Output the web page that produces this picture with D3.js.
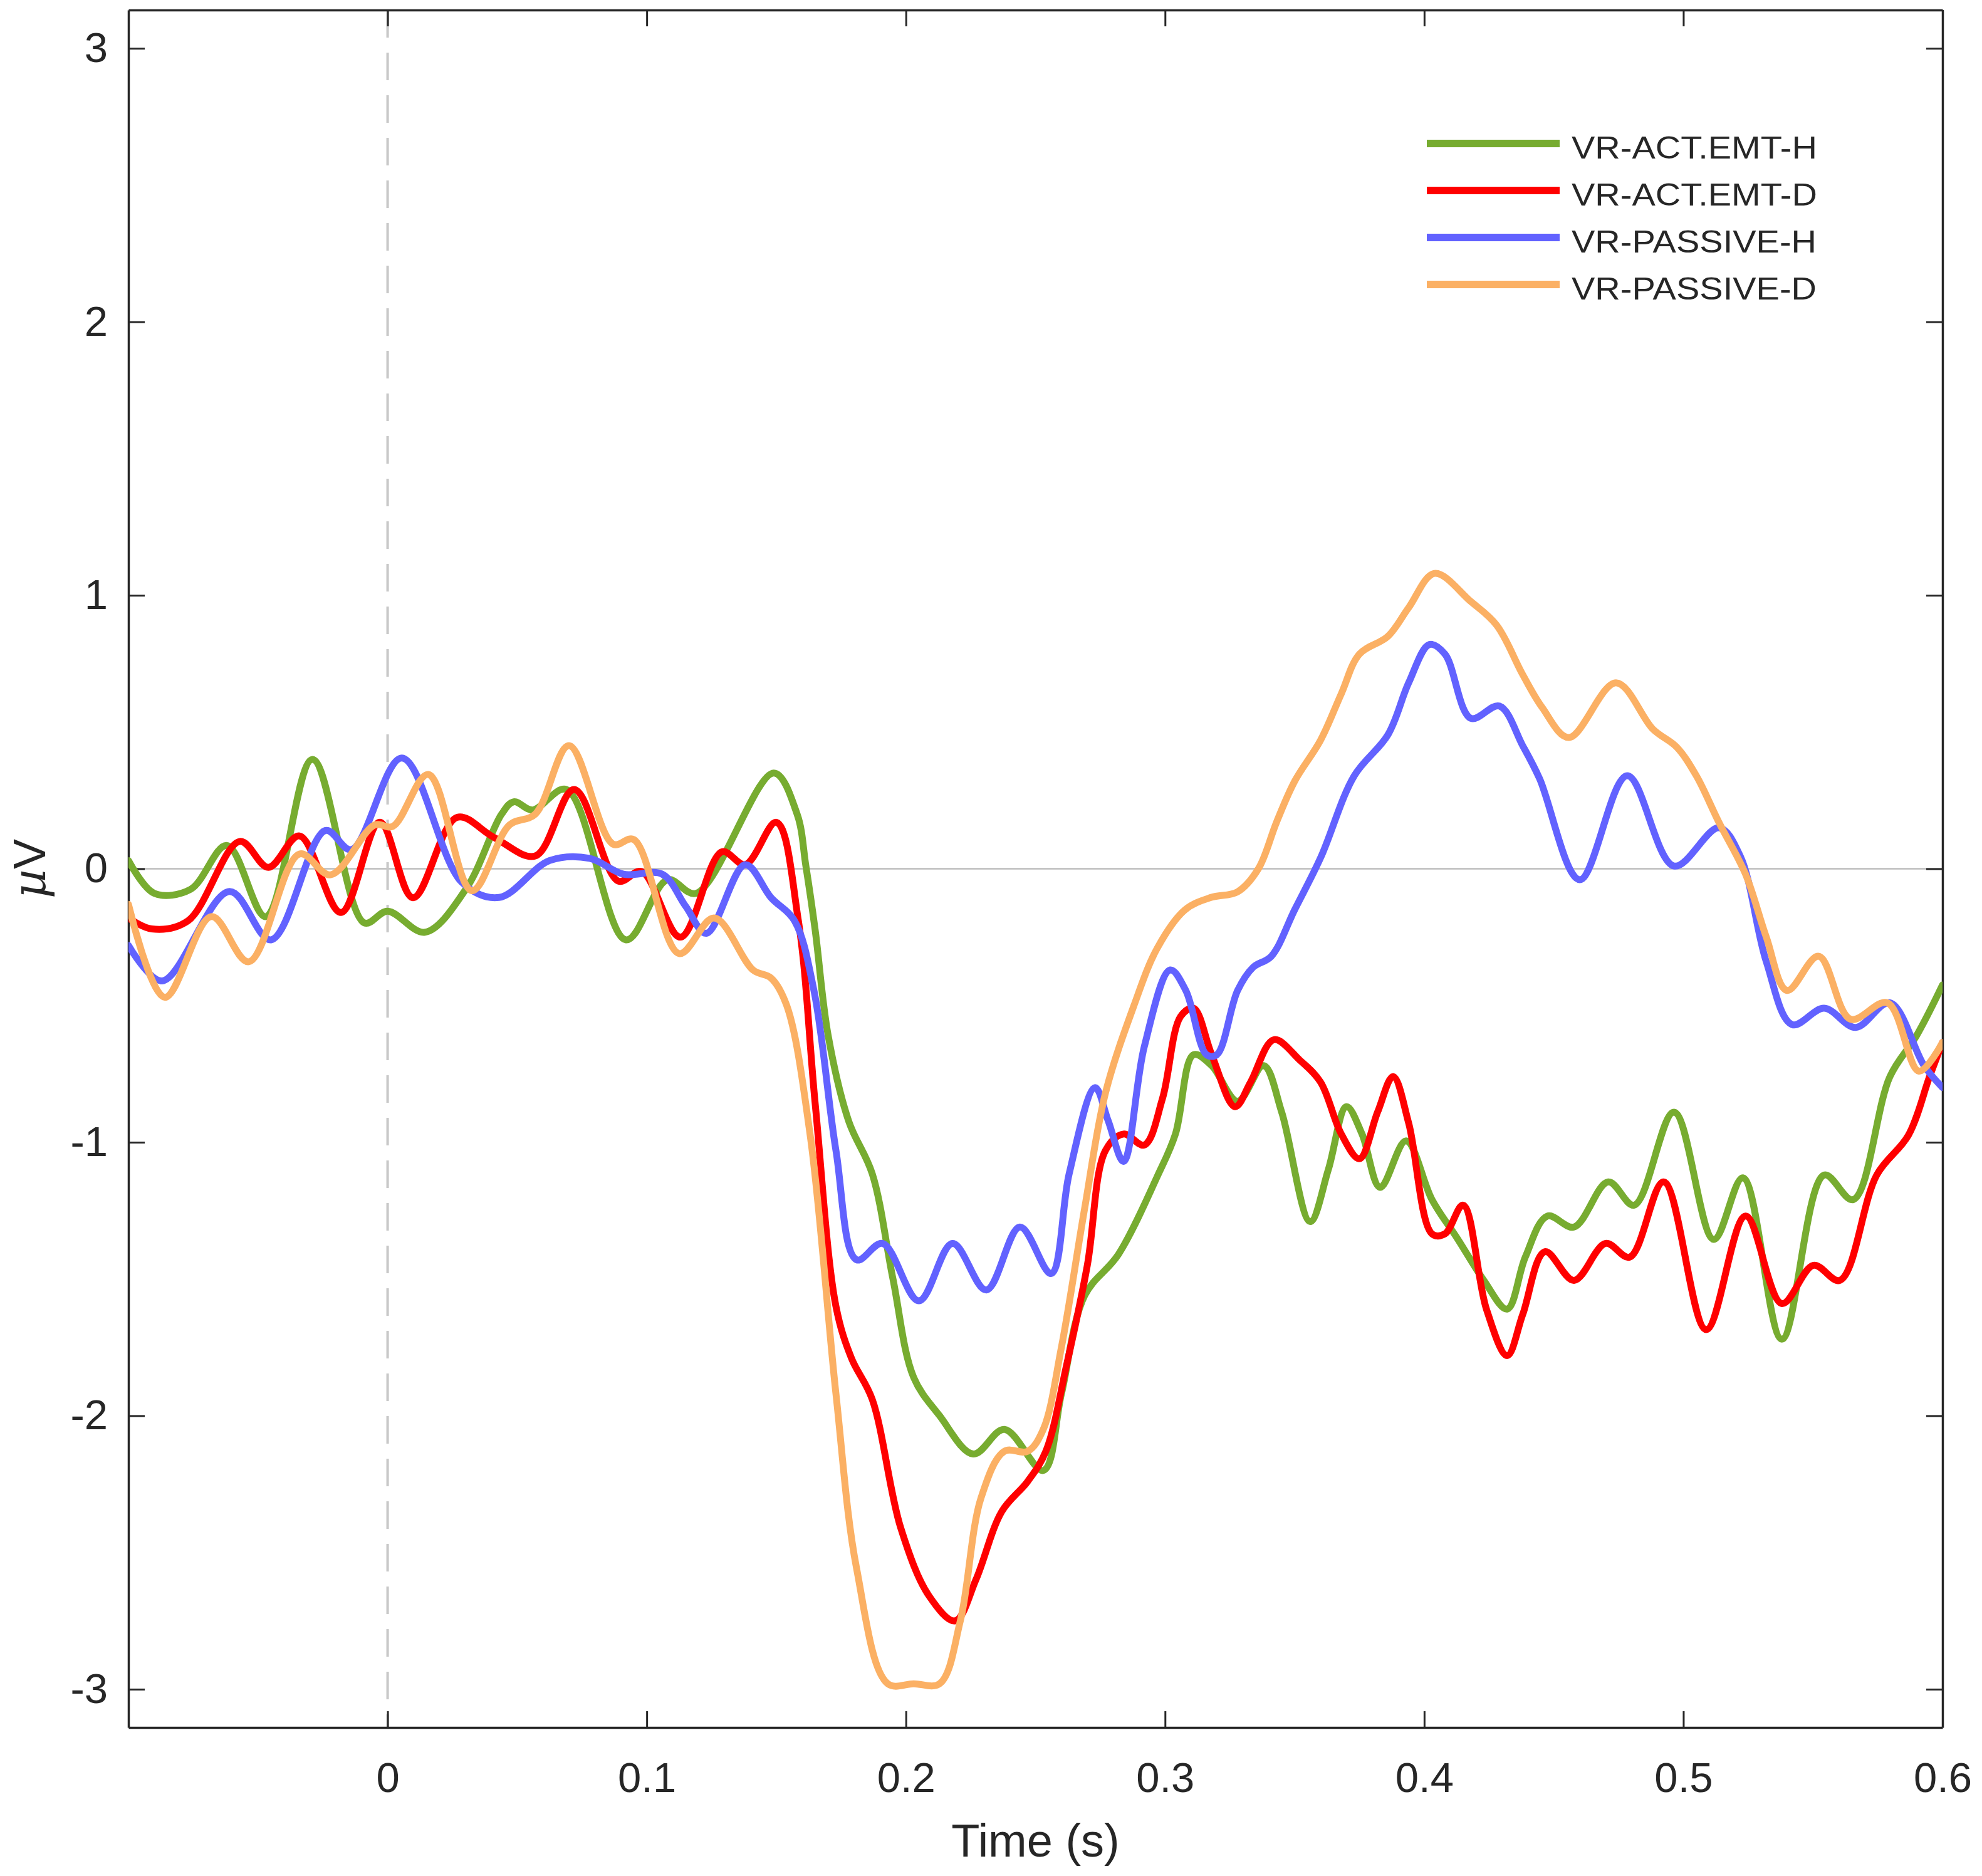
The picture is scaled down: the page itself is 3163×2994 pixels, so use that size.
<!DOCTYPE html>
<html>
<head>
<meta charset="utf-8">
<script src="https://cdn.jsdelivr.net/npm/d3@7"></script>
<style>
	body { margin: 0; background: #fff; }
	text { font-family: "Liberation Sans", Arial, Helvetica, sans-serif; fill: #262626; }
</style>
</head>
<body>
<div id="erp"></div>
<script>

// series: [time (s), amplitude (uV)]
const actEmtH = [
	[-0.1, 0.03], [-0.09, -0.09], [-0.076, -0.075], [-0.062, 0.085], [-0.047, -0.175],
	[-0.029, 0.40], [-0.009, -0.198], [0, -0.155], [0.0144, -0.232], [0.0305, -0.07],
	[0.044, 0.20], [0.0487, 0.245], [0.056, 0.215], [0.069, 0.29], [0.092, -0.26],
	[0.108, -0.04], [0.119, -0.09], [0.149, 0.35], [0.158, 0.2], [0.1614, 0.01],
	[0.165, -0.225], [0.170, -0.61], [0.178, -0.925], [0.187, -1.115], [0.195, -1.50],
	[0.203, -1.86], [0.213, -2.0], [0.226, -2.14], [0.238, -2.05], [0.253, -2.2],
	[0.260, -1.92], [0.269, -1.56], [0.282, -1.41], [0.297, -1.125], [0.304, -0.97],
	[0.311, -0.68], [0.318, -0.72], [0.328, -0.85], [0.338, -0.72], [0.345, -0.89],
	[0.356, -1.29], [0.363, -1.10], [0.370, -0.87], [0.376, -0.97], [0.383, -1.165],
	[0.393, -0.995], [0.403, -1.21], [0.413, -1.355], [0.423, -1.505], [0.432, -1.61],
	[0.439, -1.42], [0.4475, -1.27], [0.4578, -1.31], [0.471, -1.145], [0.481, -1.23],
	[0.4964, -0.89], [0.5117, -1.355], [0.523, -1.13], [0.538, -1.72], [0.5543, -1.12],
	[0.5655, -1.21], [0.5797, -0.76], [0.590, -0.61], [0.6, -0.425]
];

const actEmtD = [
	[-0.1, -0.18], [-0.091, -0.22], [-0.077, -0.19], [-0.057, 0.10], [-0.046, 0.005],
	[-0.034, 0.12], [-0.018, -0.16], [-0.003, 0.17], [0.0098, -0.106], [0.0268, 0.188],
	[0.041, 0.115], [0.057, 0.047], [0.072, 0.29], [0.089, -0.045], [0.098, -0.01],
	[0.113, -0.25], [0.129, 0.062], [0.138, 0.015], [0.150, 0.17], [0.1585, -0.19],
	[0.165, -0.86], [0.173, -1.60], [0.179, -1.79], [0.187, -1.94], [0.198, -2.41],
	[0.209, -2.66], [0.219, -2.75], [0.227, -2.60], [0.237, -2.35], [0.247, -2.24],
	[0.254, -2.13], [0.262, -1.815], [0.270, -1.45], [0.277, -1.03], [0.284, -0.97],
	[0.292, -1.01], [0.299, -0.84], [0.306, -0.54], [0.311, -0.51], [0.318, -0.68],
	[0.327, -0.87], [0.333, -0.78], [0.342, -0.625], [0.352, -0.70], [0.360, -0.78],
	[0.368, -0.97], [0.375, -1.06], [0.382, -0.89], [0.388, -0.76], [0.394, -0.93],
	[0.403, -1.335], [0.408, -1.335], [0.415, -1.23], [0.424, -1.61], [0.432, -1.78],
	[0.438, -1.63], [0.4466, -1.40], [0.4578, -1.505], [0.470, -1.37], [0.4793, -1.42],
	[0.4924, -1.145], [0.5088, -1.685], [0.524, -1.27], [0.538, -1.59], [0.5502, -1.45],
	[0.5604, -1.505], [0.5746, -1.12], [0.5868, -0.975], [0.595, -0.76], [0.6, -0.635]
];

const passiveH = [
	[-0.1, -0.28], [-0.087, -0.41], [-0.061, -0.083], [-0.045, -0.26], [-0.024, 0.14],
	[-0.014, 0.07], [0.0055, 0.405], [0.0287, -0.05], [0.043, -0.105], [0.0625, 0.03],
	[0.078, 0.038], [0.091, -0.02], [0.106, -0.02], [0.115, -0.137], [0.123, -0.236],
	[0.138, 0.015], [0.148, -0.106], [0.157, -0.19], [0.1645, -0.445], [0.173, -1.03],
	[0.181, -1.43], [0.191, -1.37], [0.205, -1.58], [0.218, -1.37], [0.231, -1.54],
	[0.244, -1.31], [0.256, -1.48], [0.263, -1.115], [0.273, -0.80], [0.278, -0.92],
	[0.284, -1.07], [0.292, -0.65], [0.302, -0.37], [0.308, -0.445], [0.316, -0.68],
	[0.32, -0.68], [0.328, -0.445], [0.334, -0.36], [0.341, -0.32], [0.350, -0.15],
	[0.360, 0.04], [0.373, 0.34], [0.386, 0.49], [0.394, 0.68], [0.402, 0.82],
	[0.408, 0.785], [0.418, 0.55], [0.429, 0.595], [0.438, 0.45], [0.4445, 0.33],
	[0.460, -0.04], [0.4783, 0.34], [0.4964, 0.01], [0.5137, 0.15], [0.522, 0.045],
	[0.532, -0.34], [0.542, -0.57], [0.5543, -0.51], [0.5665, -0.58], [0.5797, -0.49],
	[0.5929, -0.72], [0.6, -0.80]
];

const passiveD = [
	[-0.1, -0.13], [-0.086, -0.47], [-0.068, -0.175], [-0.0536, -0.34], [-0.034, 0.054],
	[-0.022, -0.022], [-0.005, 0.16], [0.002, 0.155], [0.0157, 0.345], [0.0325, -0.08],
	[0.047, 0.16], [0.057, 0.20], [0.070, 0.45], [0.087, 0.09], [0.095, 0.107],
	[0.1125, -0.31], [0.126, -0.18], [0.141, -0.37], [0.148, -0.40], [0.154, -0.50],
	[0.163, -0.97], [0.173, -1.92], [0.181, -2.56], [0.193, -2.98], [0.203, -2.98],
	[0.213, -2.98], [0.221, -2.75], [0.229, -2.30], [0.238, -2.13], [0.247, -2.13],
	[0.253, -2.05], [0.260, -1.75], [0.269, -1.24], [0.277, -0.82], [0.288, -0.50],
	[0.297, -0.29], [0.3077, -0.15], [0.3177, -0.105], [0.328, -0.084], [0.336, 0.0],
	[0.343, 0.17], [0.350, 0.32], [0.360, 0.47], [0.368, 0.64], [0.375, 0.785],
	[0.386, 0.85], [0.394, 0.955], [0.404, 1.08], [0.418, 0.977], [0.428, 0.89],
	[0.438, 0.71], [0.4455, 0.59], [0.4558, 0.48], [0.474, 0.68], [0.4883, 0.51],
	[0.4974, 0.445], [0.505, 0.34], [0.5137, 0.17], [0.524, -0.02], [0.532, -0.25],
	[0.540, -0.445], [0.5522, -0.32], [0.5645, -0.55], [0.5787, -0.49], [0.5909, -0.74],
	[0.6, -0.635]
];

const seriesNames = ["VR-ACT.EMT-H", "VR-ACT.EMT-D", "VR-PASSIVE-H", "VR-PASSIVE-D"];
const seriesColors = ["#77AC30", "#FF0000", "#6262FF", "#FBB064"];
const seriesData = [actEmtH, actEmtD, passiveH, passiveD];

const xTicks = [0, 0.1, 0.2, 0.3, 0.4, 0.5, 0.6];
const yTicks = [-3, -2, -1, 0, 1, 2, 3];
const xDomain = [-0.1, 0.6];
const yDomain = [-3.14, 3.14];

const width = 3163;
const height = 2994;
const margin = { top: 16, right: 63, bottom: 237, left: 205 };
const innerW = width - margin.left - margin.right;
const innerH = height - margin.top - margin.bottom;
const axisColor = "#262626";

const x = d3.scaleLinear().domain(xDomain).range([0, innerW]);
const y = d3.scaleLinear().domain(yDomain).range([innerH, 0]);

// plain hyphen for negatives, like the original figure
const hyphenFormat = (d) => String(d);

const svg = d3.select("#erp")
	.append("svg")
		.attr("width", width)
		.attr("height", height);

const plot = svg.append("g")
	.attr("transform", `translate(${margin.left},${margin.top})`);

plot.append("clipPath")
		.attr("id", "clip")
	.append("rect")
		.attr("width", innerW)
		.attr("height", innerH);

// reference lines
plot.append("line")
	.attr("x1", 0).attr("x2", innerW)
	.attr("y1", y(0)).attr("y2", y(0))
	.attr("stroke", "#bdbdbd")
	.attr("stroke-width", 2.5);

plot.append("line")
	.attr("x1", x(0)).attr("x2", x(0))
	.attr("y1", 0).attr("y2", innerH)
	.attr("stroke", "#c8c8c8")
	.attr("stroke-width", 4)
	.attr("stroke-dasharray", "44,24");

// axes (box with inward ticks)
function styleAxis(g, fontSize) {
	g.selectAll(".domain").attr("stroke", axisColor).attr("stroke-width", 3.5);
	g.selectAll(".tick line").attr("stroke", axisColor).attr("stroke-width", 3);
	g.selectAll(".tick text")
		.attr("fill", axisColor)
		.style("font-size", fontSize + "px")
		.style("font-family", '"Liberation Sans", Arial, sans-serif');
	g.attr("font-family", null).attr("font-size", null);
}

plot.append("g")
	.attr("transform", `translate(0,${innerH})`)
	.call(d3.axisBottom(x).tickValues(xTicks).tickSizeInner(-26).tickSizeOuter(0).tickPadding(55)
		.tickFormat(hyphenFormat))
	.call((g) => styleAxis(g, 67));

plot.append("g")
	.call(d3.axisTop(x).tickValues(xTicks).tickSizeInner(-26).tickSizeOuter(0).tickFormat(""))
	.call((g) => styleAxis(g, 67));

plot.append("g")
	.call(d3.axisLeft(y).tickValues(yTicks).tickSizeInner(-26).tickSizeOuter(0).tickPadding(33)
		.tickFormat(hyphenFormat))
	.call((g) => styleAxis(g, 67));

plot.append("g")
	.attr("transform", `translate(${innerW},0)`)
	.call(d3.axisRight(y).tickValues(yTicks).tickSizeInner(-26).tickSizeOuter(0).tickFormat(""))
	.call((g) => styleAxis(g, 67));

// curves
const line = d3.line()
	.x((d) => x(d[0]))
	.y((d) => y(d[1]))
	.curve(d3.curveCatmullRom.alpha(0.5));

plot.append("g")
		.attr("clip-path", "url(#clip)")
	.selectAll(".series")
		.data(seriesData).enter()
	.append("path")
		.attr("class", "series")
		.attr("d", line)
		.attr("fill", "none")
		.attr("stroke", (d, i) => seriesColors[i])
		.attr("stroke-width", 11)
		.attr("stroke-linejoin", "round")
		.attr("stroke-linecap", "round");

// axis labels
svg.append("text")
	.text("Time (s)")
	.attr("x", margin.left + innerW / 2)
	.attr("y", 2963)
	.attr("text-anchor", "middle")
	.style("font-size", "74px");

const ylab = svg.append("text")
	.attr("transform", `translate(72,${margin.top + y(0)}) rotate(-90)`)
	.attr("text-anchor", "middle")
	.style("font-size", "72px");
ylab.append("tspan").text("µ").style("font-style", "italic").style("font-family", '"DejaVu Serif", serif');
ylab.append("tspan").text("V");

// legend
const legend = svg.append("g")
	.attr("transform", "translate(2277,229)");

const items = legend.selectAll(".item")
		.data(seriesNames).enter()
	.append("g")
		.attr("class", "item")
		.attr("transform", (d, i) => `translate(0,${i * 75})`);

items.append("line")
	.attr("x1", 0).attr("x2", 212)
	.attr("stroke", (d, i) => seriesColors[i])
	.attr("stroke-width", 12);

items.append("text")
	.text((d) => d)
	.attr("transform", "translate(231,24) scale(1.12,1)")
	.style("font-size", "50px");

</script>
</body>
</html>
